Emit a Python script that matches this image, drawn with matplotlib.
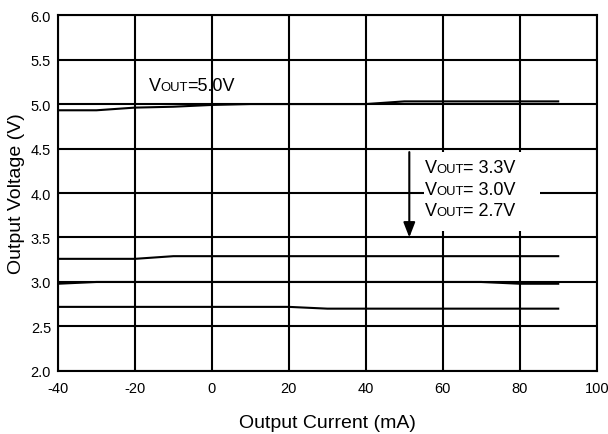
import numpy as np
import matplotlib.pyplot as plt
from matplotlib.patches import Rectangle

plt.rcParams['font.family'] = ['Liberation Sans', 'DejaVu Sans']

# Data
current = [-40, -30, -20, -10, 0, 10, 20, 30, 40, 50, 60, 70, 80, 90]
v50 = [4.93, 4.93, 4.96, 4.97, 4.99, 5.0, 5.0, 5.0, 5.0, 5.03, 5.03, 5.03, 5.03, 5.03]
v33 = [3.26, 3.26, 3.26, 3.29, 3.29, 3.29, 3.29, 3.29, 3.29, 3.29, 3.29, 3.29, 3.29, 3.29]
v30 = [2.98, 3.0, 3.0, 3.0, 3.0, 3.0, 3.0, 3.0, 3.0, 3.0, 3.0, 3.0, 2.98, 2.98]
v27 = [2.72, 2.72, 2.72, 2.72, 2.72, 2.72, 2.72, 2.70, 2.70, 2.70, 2.70, 2.70, 2.70, 2.70]

xticks = [-40, -20, 0, 20, 40, 60, 80, 100]
yticks = [2.0, 2.5, 3.0, 3.5, 4.0, 4.5, 5.0, 5.5, 6.0]

fig = plt.figure(figsize=(6.08, 4.35), dpi=100)
ax = fig.add_axes([0.0954, 0.145, 0.886, 0.818])
renderer = fig.canvas.get_renderer()


def vout_label(x, y, rest, size=13):
    # "V" + small-caps "OUT" on the same baseline + the rest
    t = ax.text(x, y, 'V', fontsize=size, va='baseline', ha='left', zorder=5)
    off = t.get_window_extent(renderer).width * 72 / fig.dpi - 0.5
    t = ax.annotate('OUT', xy=(x, y), xytext=(off, 0), textcoords='offset points',
                    fontsize=size * 0.72, va='baseline', ha='left', zorder=5)
    off += t.get_window_extent(renderer).width * 72 / fig.dpi - 0.3
    ax.annotate(rest, xy=(x, y), xytext=(off, 0), textcoords='offset points',
                fontsize=size, va='baseline', ha='left', zorder=5)


for v in [v50, v33, v30, v27]:
    ax.plot(current, v, color='black', lw=1.5, zorder=3)

ax.set_xlim(-40, 100)
ax.set_ylim(2.0, 6.0)
ax.set_xticks(xticks)
ax.set_yticks(yticks)
ax.set_xticklabels([str(t) for t in xticks])
ax.set_yticklabels([f'{t:.1f}' for t in yticks])
ax.tick_params(length=0, labelsize=10.5, pad=5)
ax.tick_params(axis='x', pad=7)
ax.set_axisbelow(True)
ax.grid(True, color='black', lw=1.5)
for s in ax.spines.values():
    s.set_linewidth(1.5)

ax.set_xlabel('Output Current (mA)', fontsize=14, labelpad=14)
ax.set_ylabel('Output Voltage (V)', fontsize=14, labelpad=4)

vout_label(-16.4, 5.157, '=5.0V')

# white box behind the lower labels
ax.add_patch(Rectangle((55.0, 3.575), 30.3, 0.885, facecolor='white',
                       edgecolor='none', zorder=2))
vout_label(55.4, 4.236, '= 3.3V')
vout_label(55.4, 3.994, '= 3.0V')
vout_label(55.4, 3.753, '= 2.7V')

ax.annotate('', xy=(51.3, 3.5), xytext=(51.3, 4.46),
            arrowprops=dict(arrowstyle='-|>,head_length=0.9,head_width=0.35',
                            color='black', lw=1.5, shrinkA=0, shrinkB=0),
            zorder=6)

fig.savefig('out.png', dpi=100)
